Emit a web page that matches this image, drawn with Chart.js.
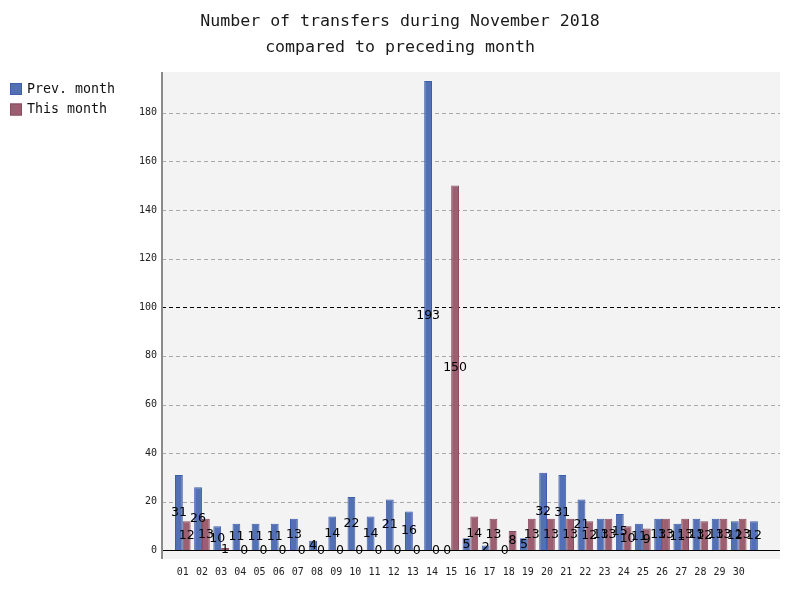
<!DOCTYPE html>
<html>
<head>
<meta charset="utf-8">
<script src="https://cdn.jsdelivr.net/npm/chart.js@4"></script>
<style>
  html, body { margin: 0; padding: 0; background: #fff; }
  #c { display: block; }
</style>
</head>
<body>
<canvas id="c" width="800" height="600"></canvas>
<script>
const titleLines = ['Number of transfers during November 2018', 'compared to preceding month'];
const dayLabels = ['01','02','03','04','05','06','07','08','09','10','11','12','13','14','15',
                   '16','17','18','19','20','21','22','23','24','25','26','27','28','29','30'];
const prevMonth = [31,26,10,11,11,11,13,4,14,22,14,21,16,193,0,5,2,0,5,32,31,21,13,15,11,13,11,13,13,12,12];
const thisMonth = [12,13,1,0,0,0,0,0,0,0,0,0,0,0,150,14,13,8,13,13,13,12,13,10,9,13,13,12,13,13];
const yTicks = [0,20,40,60,80,100,120,140,160,180];
const seriesNames = ['Prev. month', 'This month'];

const BLUE = '#5270b3', BLUE_B = '#3d5ea9';
const RED = '#9b5f71', RED_B = '#8a4b5f';

const toPoints = arr => arr.map((v, i) => ({ x: i + 1, y: v }));

const bgPlugin = {
  id: 'bg',
  beforeDraw(chart) {
    const { ctx, chartArea: a } = chart;
    ctx.save();
    ctx.fillStyle = '#f3f3f3';
    ctx.fillRect(a.left, a.top, a.right - a.left, a.bottom - a.top);
    const y = chart.scales.y;
    yTicks.forEach(v => {
      if (v === 0) return;
      const py = Math.round(y.getPixelForValue(v)) + 0.5;
      ctx.beginPath();
      ctx.setLineDash([4, 3]);
      ctx.lineWidth = 1;
      ctx.strokeStyle = v === 100 ? '#000' : '#a8a8a8';
      ctx.moveTo(a.left, py);
      ctx.lineTo(a.right, py);
      ctx.stroke();
    });
    ctx.restore();
  },
  afterDatasetsDraw(chart) {
    const { ctx, chartArea: a } = chart;
    const y = chart.scales.y;
    ctx.save();
    const p0 = Math.round(y.getPixelForValue(0)) + 0.5;
    ctx.setLineDash([]);
    ctx.strokeStyle = '#000';
    ctx.lineWidth = 1;
    ctx.beginPath();
    ctx.moveTo(a.left, p0);
    ctx.lineTo(a.right, p0);
    ctx.stroke();
    ctx.strokeStyle = '#8a8a8a';
    ctx.lineWidth = 2;
    ctx.beginPath();
    ctx.moveTo(a.left, a.top);
    ctx.lineTo(a.left, a.bottom);
    ctx.stroke();
    ctx.font = '12.5px "DejaVu Sans"';
    ctx.fillStyle = '#000';
    ctx.textAlign = 'center';
    ctx.textBaseline = 'middle';
    chart.data.datasets.forEach((ds, di) => {
      const meta = chart.getDatasetMeta(di);
      meta.data.forEach((bar, i) => {
        const v = ds.data[i].y;
        const cy = (bar.y + bar.base) / 2;
        ctx.fillText(String(v), bar.x, cy);
      });
    });
    ctx.font = '13.3px "DejaVu Sans Mono"';
    ctx.textAlign = 'left';
    chart.data.datasets.forEach((ds, di) => {
      const top = 83 + di * 20.5;
      ctx.fillStyle = ds.backgroundColor;
      ctx.fillRect(10, top, 12, 12);
      ctx.strokeStyle = ds.borderColor;
      ctx.lineWidth = 1;
      ctx.strokeRect(10.5, top + 0.5, 11, 11);
      ctx.fillStyle = '#111';
      ctx.fillText(ds.label, 27, top + 6.5);
    });
    ctx.restore();
  }
};

new Chart(document.getElementById('c'), {
  type: 'bar',
  data: {
    datasets: [
      { label: seriesNames[0], data: toPoints(prevMonth), backgroundColor: BLUE, borderColor: BLUE_B, borderWidth: 1 },
      { label: seriesNames[1], data: toPoints(thisMonth), backgroundColor: RED, borderColor: RED_B, borderWidth: 1 }
    ]
  },
  options: {
    responsive: false,
    animation: false,
    events: [],
    categoryPercentage: 0.815,
    barPercentage: 1.0,
    layout: { padding: { left: 20, right: 20, top: 0, bottom: 0 } },
    plugins: {
      legend: { display: false },
      tooltip: { enabled: false },
      title: {
        display: true,
        text: titleLines,
        color: '#1a1a1a',
        font: { family: '"DejaVu Sans Mono"', size: 16.6, weight: 'normal', lineHeight: 1.566 },
        padding: { top: 9, bottom: 11 }
      }
    },
    scales: {
      x: {
        type: 'linear',
        offset: false,
        min: -0.085,
        max: 32.153,
        grid: { display: false, drawTicks: false, offset: false },
        border: { display: false },
        afterBuildTicks(scale) { scale.ticks = dayLabels.map((l, i) => ({ value: i + 1 })); },
        afterFit(scale) { scale.height = 41; },
        ticks: {
          autoSkip: false,
          maxRotation: 0,
          padding: 7,
          color: '#222',
          font: { family: '"DejaVu Sans Mono"', size: 10 },
          callback: v => dayLabels[v - 1] !== undefined ? dayLabels[v - 1] : ''
        }
      },
      y: {
        min: -3.5,
        max: 196.7,
        grid: { display: false, drawTicks: false },
        border: { display: false },
        afterBuildTicks(scale) { scale.ticks = yTicks.map(v => ({ value: v })); },
        afterFit(scale) { scale.width = 142; },
        ticks: {
          padding: 5,
          color: '#222',
          font: { family: '"DejaVu Sans Mono"', size: 10 }
        }
      }
    }
  },
  plugins: [bgPlugin]
});
</script>
</body>
</html>
